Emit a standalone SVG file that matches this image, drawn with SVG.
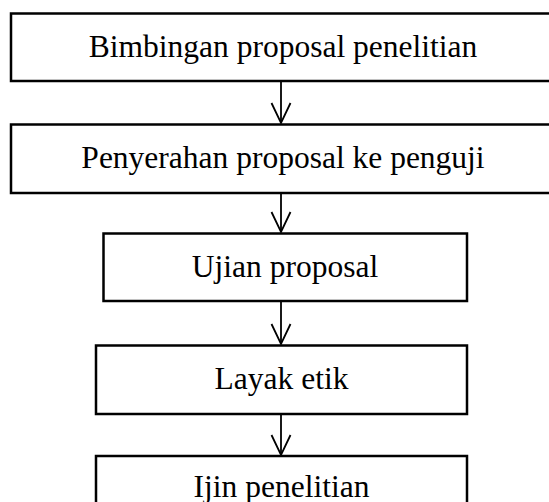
<svg xmlns="http://www.w3.org/2000/svg" width="549" height="502" viewBox="0 0 549 502">
<defs>
<style>
.box{fill:#fff;stroke:#000;stroke-width:2.5}
.lbl{font-family:"Liberation Serif","Times New Roman",serif;font-size:31.5px;fill:#000;text-anchor:middle}
.con{fill:none;stroke:#000;stroke-width:1.8}
</style>
</defs>
<rect width="549" height="502" fill="#fff"/>
<g id="connectors">
<line class="con" x1="281" y1="82" x2="281" y2="123"/>
<line class="con" x1="281" y1="194" x2="281" y2="232"/>
<line class="con" x1="281" y1="302" x2="281" y2="344"/>
<line class="con" x1="281" y1="415" x2="281" y2="455"/>
<path class="con" d="M271.5,103 L281,123 L290.5,103"/>
<path class="con" d="M271.5,212 L281,232 L290.5,212"/>
<path class="con" d="M271.5,324 L281,344 L290.5,324"/>
<path class="con" d="M271.5,435 L281,455 L290.5,435"/>
</g>
<g id="n1">
<rect class="box" x="11" y="13.5" width="560" height="67.5"/>
<text class="lbl" x="283" y="57">Bimbingan proposal penelitian</text>
</g>
<g id="n2">
<rect class="box" x="11" y="124.5" width="560" height="68.5"/>
<text class="lbl" x="283" y="168">Penyerahan proposal ke penguji</text>
</g>
<g id="n3">
<rect class="box" x="103.5" y="233.5" width="363.5" height="67.5"/>
<text class="lbl" x="285" y="277">Ujian proposal</text>
</g>
<g id="n4">
<rect class="box" x="96" y="345.5" width="371" height="68.5"/>
<text class="lbl" x="281.5" y="389">Layak etik</text>
</g>
<g id="n5">
<rect class="box" x="96" y="456" width="371" height="70"/>
<text class="lbl" x="281.5" y="497">Ijin penelitian</text>
</g>
</svg>
